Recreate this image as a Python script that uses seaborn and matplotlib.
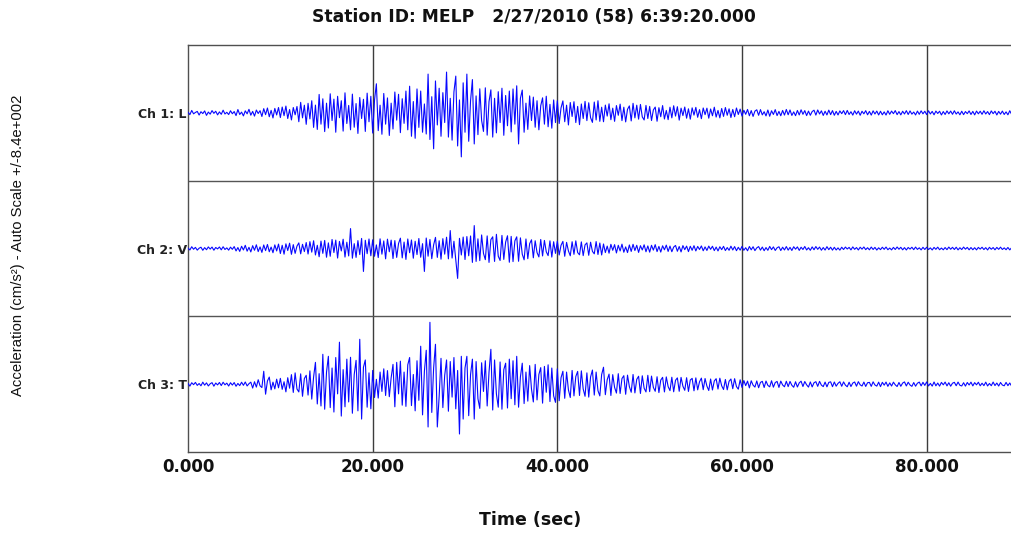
import numpy as np
import pandas as pd
import matplotlib
matplotlib.use("Agg")
import matplotlib.pyplot as plt
import seaborn as sns

# Acceleration records (cm/s^2), one sample every 0.2 s
dt = 0.2
channel_labels = ["Ch 1: L", "Ch 2: V", "Ch 3: T"]
full_scale = 840.0
tick_positions = [0, 20, 40, 60, 80]
tick_labels = ["0.000", "20.000", "40.000", "60.000", "80.000"]

ch1_L = [
    8, -22, 30, -12, 5, 18, -27, 14, -9, 24, -31, 10, -16, 28, -6, 20, -25, 12, -18, 33, -14, 7, -21, 26, -11,
    16, -34, 41, -20, 9, -38, 25, -12, 44, -29, 18, -40, 35, -8, 27, -45, 52, -22, 60, -48, 31, -63, 55, -26, 66,
    -58, 72, -35, 84, -70, 41, -88, 66, -24, 79, -110, 130, -62, 95, -142, 118, -75, 150, -180, 96, -205, 228, -140, 174, -232,
    120, -188, 236, -95, 170, -240, 205, -60, 150, -226, 248, -132, 92, -210, 232, -178, 115, -255, 190, -70, 168, -230, 244, -110, 205,
    -250, 160, 360, -220, 95, -265, 240, -140, 185, -280, 120, -200, 258, -90, 230, -245, 175, -130, 270, -210, 330, -290, 140, -315, 296,
    -180, 270, -240, 110, -262, 480, -330, 200, -445, 395, -150, 305, -290, 250, -120, 505, -300, 180, -338, 260, 455, -410, 160, -545, 372,
    -240, 480, -352, 150, 412, -385, 210, -270, 298, -95, -230, 310, -276, 140, 285, -300, 180, -248, 262, -120, 305, -278, 215, -160, 270,
    -236, 296, -140, 335, -385, 180, 282, -240, 120, -205, 210, -95, 195, -178, 150, -210, 88, 186, -140, 206, -172, 105, -190, 160, -120,
    150, -132, 62, 148, -110, 95, -150, 128, -45, 138, -120, 80, -146, 110, -70, 142, -96, 125, -60, -118, 134, -88, 150, -105, 70,
    -110, 96, -40, 112, -85, 58, -105, 90, -30, 108, -96, 70, -112, 44, 86, -100, 118, -62, 95, -78, 104, -50, -88, 92, -70,
    80, -95, 36, 72, -104, 64, -48, 90, -76, 30, -84, 70, -62, 88, -40, 76, -90, 58, -34, 72, -66, 50, -78, 62, -28,
    68, -55, 40, -72, 60, -22, 58, -66, 48, -36, 70, -52, 30, -62, 54, -44, 66, -30, 50, -58, 42, -48, 60, -20, 46,
    -40, 32, -18, 42, -36, 28, -44, 22, 38, -30, 40, -25, 14, -38, 35, -42, 26, -20, 40, -34, 18, -36, 30, -28, 42,
    -24, 36, -32, 12, -35, 30, -26, 38, -18, 28, -34, 22, -30, 16, 33, -28, 36, -14, 25, -32, 20, -26, 34, -22, 28,
    -30, 18, -26, 24, -10, 28, -22, 30, -20, 14, -28, 26, -16, 22, -30, 20, -12, 27, -24, 18, -28, 25, -14, 22, -26,
    20, -24, 12, -27, 26, -18, 22, -10, 28, -22, 16, -25, 20, -14, 27, -20, 24, -16, 10, -26, 22, -18, 25, -12, 20,
    -22, 26, -14, 18, -24, 22, -8, 20, -26, 16, -20, 24, -12, 22, -18, 26, -15, 12, -24, 20, -22, 16, -10, 24, -20,
    18, -25, 22, -12, 20, -18, 26, -14, 16, -22, 24, -10, 20, -26, 18, -16, 22, -20, 12, -24, 26, -18, 14, -22, 20,
]

ch2_V = [
    6, -18, 22, -9, 14, -20, 4, 16, -22, 11, -15, 20, -7, 18, -21, 13, -5, 19, -16, 22, -12, 8, -20, 17, -10,
    24, -30, 12, -36, 28, -18, 40, -33, 15, -42, 35, -22, 46, -38, 20, -48, 44, -26, 50, -40, 18, -52, 45, -30, 55,
    -62, 40, -70, 58, -25, 66, -72, 48, -60, 30, 70, -66, 52, -38, 74, -68, 85, -45, 96, -80, 40, -102, 92, -60, 100,
    -108, 70, -96, 112, -50, 104, -118, 88, -30, 115, -106, 78, -92, 247, -120, 60, -110, 98, -75, 125, -284, 102, -64, 118, -90,
    108, -96, 45, -112, 120, -70, 94, -128, 116, -40, 104, -124, 98, -110, 62, 128, -116, 80, -135, 118, -52, 106, -120, 90, -75,
    124, -108, 60, -284, 130, -95, 112, -126, 45, 138, -110, 96, -132, 122, -70, 140, -128, 222, -118, 90, -134, -370, 126, -80, 142,
    -136, 148, -90, 155, -172, 284, -160, 120, -150, 168, -60, -138, 156, -172, 110, 145, -160, 176, -95, -148, 162, -135, 80, 158, -170,
    150, -162, 95, 145, -158, 132, -70, -140, 118, -126, 60, 108, -115, 96, -50, -104, 112, -92, 100, -40, -88, 95, -106, 84, -60,
    92, -80, 40, 88, -96, 76, -30, -90, 84, -72, 95, -50, -78, 82, -88, 45, 70, -84, 78, -35, -66, 86, -74, 68, -80,
    56, -50, 30, -58, 52, -22, 48, -55, 40, -30, 54, -46, 20, -50, 44, -36, 52, -25, 40, -48, 35, -18, 46, -40, 32,
    -45, 40, -20, 48, -38, 26, -44, 34, -16, 42, -36, 30, -40, 18, 38, -34, 25, -42, 36, -14, 30, -38, 28, -22, 35,
    -30, 26, -12, 32, -28, 20, -24, 30, -10, 28, -26, 18, -30, 22, -14, 27, -25, 12, -22, 29, -18, 24, -27, 15, -20,
    26, -22, 10, -28, 25, -16, 22, -26, 8, 24, -20, 18, -27, 12, -22, 26, -14, 20, -24, 9, 22, -25, 16, -18, 24,
    -20, 14, -24, 22, -8, 20, -23, 16, -12, 25, -18, 10, -22, 20, -15, 24, -10, 18, -21, 12, -19, 23, -14, 16, -20,
    15, -18, 8, -20, 16, -12, 18, -6, 14, -17, 20, -10, 12, -18, 16, -8, 19, -14, 10, -16, 18, -12, 14, -19, 9,
    -14, 16, -10, 18, -15, 6, -17, 14, -12, 19, -9, 15, -16, 11, -18, 13, -7, 16, -14, 18, -11, 9, -17, 15, -12,
    16, -13, 8, -18, 14, -10, 17, -15, 6, -16, 12, -14, 18, -9, 15, -12, 16, -17, 10, -13, 18, -8, 14, -16, 12,
    -15, 10, -17, 14, -7, 16, -13, 11, -18, 15, -9, 12, -16, 14, -10, 17, -12, 8, -15, 13, -17, 10, -14, 16, -11,
]

ch3_T = [
    10, -24, 18, -6, 22, -15, 8, -20, 25, -12, 16, -22, 5, 19, -25, 14, -9, 21, -17, 24, -8, 13, -23, 18, -11,
    20, -26, 9, -18, 24, -14, 27, -22, 6, 25, -48, 30, -36, 55, -20, -42, 160, -124, 40, 88, -70, 25, -58, 62, -45,
    72, -64, 30, -95, 80, -50, 118, -102, 140, -60, -96, 128, -150, 70, 110, -135, 165, -185, 90, 270, -245, 130, -270, 370, -310,
    150, 345, -290, 200, -345, 330, -120, 520, -395, 180, -280, 310, -220, 333, -360, 120, 295, -330, 556, -432, 210, 300, -285, 140, -305,
    170, -165, 60, -172, 150, -90, 190, -140, 168, -155, 80, 245, -280, 270, -120, 285, -260, 150, -275, 240, 330, -265, 120, -330, 290,
    -200, 470, -380, 160, 420, -530, 766, -350, 200, 494, -530, -150, 320, -290, 110, 300, -335, 280, -160, 330, -305, 170, -617, 345, -432,
    200, 345, -390, 120, 310, -432, 280, -180, -300, 265, -90, 290, -270, 150, 432, -320, 300, -120, -285, 275, -310, 180, 260, -295, 310,
    -180, 290, -255, 345, -285, 90, 260, -240, 150, -210, 230, -60, -220, 245, -195, 120, 205, -235, 220, -100, 240, -215, 200, -145, -225,
    190, -205, 80, 160, -175, 150, -70, -165, 170, -145, 95, 158, -140, 165, -60, -150, 140, -160, 90, 175, -135, 150, -80, -145, 120,
    210, -130, 55, 125, -140, 118, -40, -110, 130, -115, 70, 105, -125, 112, -30, -100, 120, -108, 60, 98, -115, 104, -50, -96, 110,
    -92, 100, -40, -88, 92, -104, 50, 85, -96, 90, -30, -80, 86, -94, 48, 78, -88, 84, -25, -76, 80, -90, 52, 72, -82,
    78, -70, 30, 75, -68, 70, -24, -78, 64, -72, 40, 68, -60, 74, -20, -66, 58, -70, 36, 64, -56, 68, -30, -62, 54,
    -40, 45, -18, 38, -46, 42, -12, -36, 40, -44, 22, 35, -41, 39, -15, -33, 42, -37, 20, 34, -40, 38, -10, -32, 36,
    -30, 34, -14, -38, 30, -35, 16, 37, -29, 33, -8, -36, 28, -34, 18, 31, -27, 35, -12, -30, 26, -33, 22, 29, -31,
    27, -25, 10, 30, -26, 28, -12, -32, 24, -29, 14, 27, -25, 31, -8, -23, 26, -28, 18, 22, -27, 29, -10, -24, 25,
    -30, 23, -12, 26, -27, 16, -23, 25, -8, -29, 21, -26, 14, 28, -22, 24, -10, -27, 20, -25, 12, 26, -21, 23, -15,
    28, -22, 10, -24, 27, -20, 14, -24, 22, -8, 26, -21, 18, -25, 12, 23, -19, 26, -14, -22, 18, -24, 21, -10, 25,
    -21, 19, -8, 24, -20, 12, -18, 25, -22, 9, -19, 26, -17, 14, -23, 21, -11, -20, 22, -18, 15, -24, 19, -9, 24,
]

records = [ch1_L, ch2_V, ch3_T]

# Long-form table: each trace is stacked on its own band of height 2 * full_scale
frames = []
n_ch = len(records)
offsets = [2 * full_scale * (n_ch - 1 - k) for k in range(n_ch)]
for label, acc, offset in zip(channel_labels, records, offsets):
    acc = np.asarray(acc, dtype=float)
    frames.append(pd.DataFrame({
        "time": np.arange(len(acc)) * dt,
        "trace": offset + acc,
        "channel": label,
    }))
df = pd.concat(frames, ignore_index=True)

sns.set_style("white")
plt.rcParams["font.family"] = ["DejaVu Sans"]

fig = plt.figure(figsize=(10.12, 5.36), dpi=100)
ax = fig.add_axes([0.1858, 0.1567, 0.8211, 0.7593])

sns.lineplot(data=df, x="time", y="trace", hue="channel", units="channel",
             estimator=None, palette=["#0808ff"] * n_ch, linewidth=0.8,
             legend=False, ax=ax, zorder=3)

ax.set_xlim(0, 90)
ax.set_ylim(-full_scale, 2 * full_scale * (n_ch - 1) + full_scale)

# grid: vertical time lines and channel separators
for x in tick_positions[1:]:
    ax.axvline(x, color="#3c3c3c", lw=1.0, zorder=2)
for k in range(1, n_ch):
    ax.axhline(-full_scale + 2 * full_scale * k, color="#555555", lw=1.0, zorder=2)

ax.set_xticks(tick_positions)
ax.set_xticklabels(tick_labels, fontsize=12, fontweight="bold", color="#111111")
ax.set_yticks(offsets)
ax.set_yticklabels(channel_labels, fontsize=9, fontweight="bold", color="#222222")
ax.tick_params(axis="both", length=0)
ax.tick_params(axis="x", pad=4)
ax.tick_params(axis="y", pad=1)
ax.set_xlabel("")
ax.set_ylabel("")

for side in ["left", "top", "bottom"]:
    ax.spines[side].set_visible(True)
    ax.spines[side].set_color("#505050")
    ax.spines[side].set_linewidth(1.0)
ax.spines["right"].set_visible(False)

fig.text(534 / 1012, 1 - 17 / 536, "Station ID: MELP   2/27/2010 (58) 6:39:20.000",
         ha="center", va="center", fontsize=12.3, fontweight="bold", color="#111111")
fig.text(530 / 1012, 1 - 520 / 536, "Time (sec)", ha="center", va="center",
         fontsize=12.5, fontweight="bold", color="#111111")
fig.text(18 / 1012, 1 - 245 / 536, "Acceleration (cm/s²) - Auto Scale +/-8.4e+002",
         ha="center", va="center", rotation=90, fontsize=10.7,
         family=["Liberation Sans"], color="#111111")

fig.savefig("out.png", dpi=100)
